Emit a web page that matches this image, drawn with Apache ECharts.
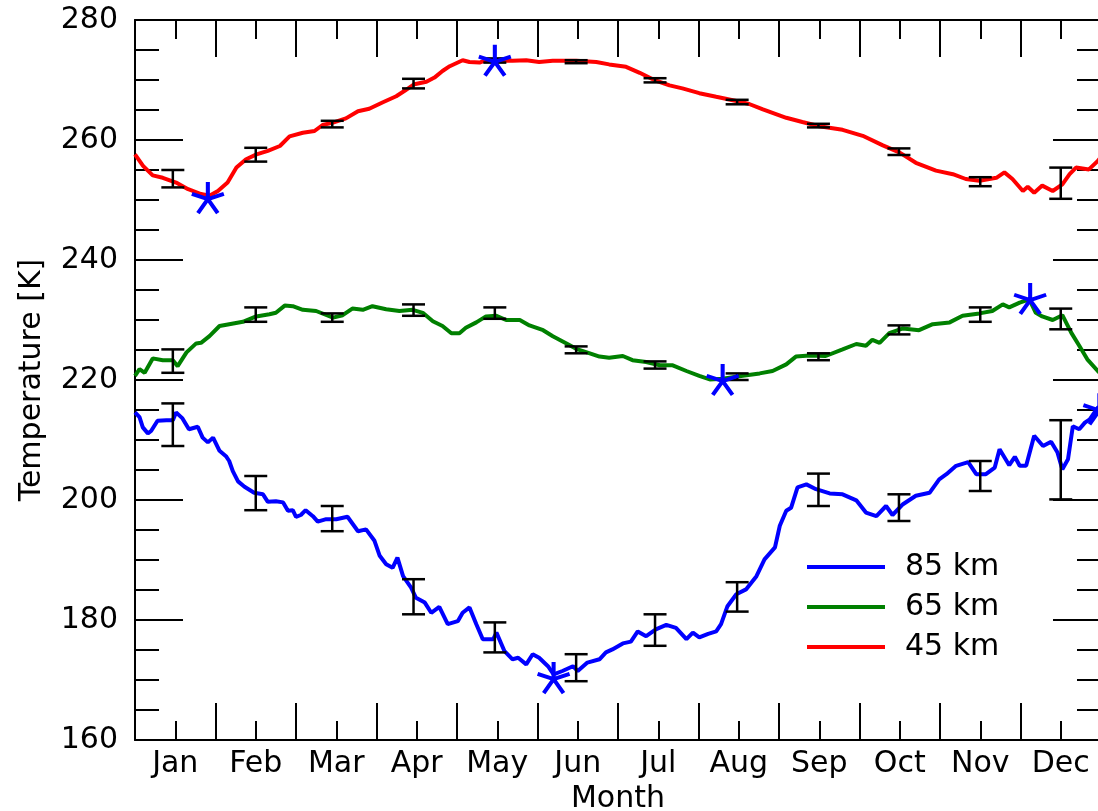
<!DOCTYPE html>
<html>
<head>
<meta charset="utf-8">
<script src="https://cdn.jsdelivr.net/npm/echarts@6/dist/echarts.min.js"></script>
<style>
html,body{margin:0;padding:0;background:#fff;}
#chart{width:1098px;height:811px;}
</style>
</head>
<body>
<div id="chart"></div>
<script>
// ---- Data (x in months since 1 Jan, values in K) ----
const monthLabels = ['Jan','Feb','Mar','Apr','May','Jun','Jul','Aug','Sep','Oct','Nov','Dec'];
const yTicks = [160, 180, 200, 220, 240, 260, 280];

const x45 = [0,0.1,0.22,0.345,0.51,0.66,0.82,0.925,1.03,1.15,1.26,1.38,1.51,1.65,1.80,1.92,2.085,2.23,2.33,2.46,2.62,2.77,2.91,3.08,3.245,3.35,3.47,3.62,3.72,3.82,3.91,3.99,4.07,4.155,4.28,4.36,4.49,4.69,4.86,5.02,5.19,5.48,5.73,5.89,6.10,6.27,6.45,6.64,6.80,7.01,7.22,7.47,7.63,7.80,8.09,8.29,8.50,8.79,9.04,9.29,9.50,9.70,9.95,10.16,10.32,10.49,10.70,10.80,10.90,11.03,11.09,11.17,11.27,11.40,11.52,11.61,11.69,11.85,11.96,12.0];
const v45 = [257.6,255.7,254.1,253.7,252.9,251.8,251.0,250.7,251.5,252.9,255.4,256.8,257.6,258.2,259.0,260.6,261.2,261.5,262.5,262.9,263.6,264.8,265.2,266.3,267.3,268.2,269.3,269.7,270.4,271.5,272.3,272.8,273.3,273.0,272.9,273.3,273.2,273.2,273.3,273.0,273.2,273.2,273.0,272.6,272.2,271.2,270.0,269.1,268.6,267.8,267.2,266.5,266.0,265.1,263.7,263.0,262.3,261.7,260.7,259.1,257.9,256.2,254.9,254.3,253.5,253.2,253.7,254.6,253.5,251.5,252.2,251.2,252.4,251.5,252.6,254.3,255.4,255.1,256.5,257.2];

const x65 = [0,0.056,0.12,0.22,0.345,0.47,0.53,0.64,0.76,0.82,0.925,1.05,1.17,1.34,1.505,1.67,1.75,1.86,1.96,2.085,2.25,2.46,2.58,2.70,2.83,2.95,3.12,3.285,3.45,3.575,3.70,3.82,3.93,4.03,4.11,4.24,4.36,4.49,4.61,4.78,4.90,5.07,5.19,5.36,5.48,5.65,5.77,5.89,6.06,6.18,6.35,6.52,6.68,6.85,7.01,7.14,7.30,7.55,7.76,7.92,8.09,8.21,8.38,8.58,8.79,8.96,9.08,9.16,9.25,9.37,9.54,9.74,9.91,10.12,10.28,10.49,10.65,10.78,10.86,10.99,11.11,11.19,11.27,11.40,11.52,11.63,11.73,11.83,11.96,12.0];
const v65 = [220.7,221.8,221.2,223.6,223.3,223.3,222.3,224.6,226.1,226.2,227.3,229.0,229.3,229.7,230.6,230.95,231.2,232.4,232.3,231.7,231.5,230.4,230.8,231.9,231.7,232.3,231.8,231.5,231.7,231.2,229.8,229.0,227.8,227.8,228.7,229.6,230.6,230.7,230.0,230.0,229.1,228.3,227.3,226.1,225.2,224.45,223.9,223.7,224.0,223.3,223.0,222.45,222.45,221.5,220.7,220.1,220.2,220.7,221.1,221.5,222.6,223.9,224.1,224.0,225.1,226.0,225.7,226.7,226.2,227.8,228.6,228.3,229.3,229.6,230.7,231.1,231.5,232.6,232.1,232.9,233.45,231.2,230.6,230.0,230.8,227.9,225.7,223.45,221.5,221.0];

const x85 = [0,0.056,0.097,0.16,0.20,0.28,0.39,0.47,0.51,0.59,0.67,0.78,0.84,0.905,0.97,1.05,1.13,1.17,1.215,1.28,1.36,1.48,1.59,1.65,1.75,1.84,1.90,1.96,2.00,2.06,2.12,2.21,2.27,2.375,2.50,2.64,2.77,2.87,2.975,3.04,3.12,3.20,3.26,3.33,3.43,3.49,3.60,3.68,3.78,3.885,4.01,4.07,4.155,4.24,4.32,4.45,4.49,4.59,4.69,4.76,4.86,4.94,5.02,5.13,5.20,5.31,5.44,5.50,5.62,5.77,5.85,5.93,6.06,6.16,6.245,6.35,6.47,6.60,6.72,6.85,6.93,7.01,7.12,7.22,7.28,7.36,7.47,7.59,7.72,7.82,7.95,8.01,8.09,8.15,8.23,8.34,8.46,8.63,8.79,8.96,9.08,9.21,9.33,9.41,9.54,9.70,9.87,9.99,10.08,10.20,10.35,10.45,10.57,10.68,10.74,10.86,10.93,10.99,11.07,11.17,11.28,11.38,11.46,11.52,11.59,11.65,11.73,11.80,11.86,11.96,12.0];
const v85 = [214.6,213.8,212.1,211.1,211.5,213.2,213.3,213.3,214.6,213.6,211.8,212.2,210.4,209.6,210.4,208.2,207.3,206.5,204.8,203.1,202.2,201.2,200.95,199.7,199.8,199.6,198.2,198.3,197.2,197.5,198.3,197.3,196.4,196.8,196.8,197.2,194.8,195.1,193.2,190.7,189.3,188.7,190.4,187.3,185.4,183.7,182.9,181.2,182.2,179.3,179.8,181.2,182.1,179.3,176.8,176.8,177.9,174.8,173.45,173.7,172.6,174.3,173.7,172.3,170.95,171.5,172.3,171.5,172.9,173.45,174.6,175.1,176.1,176.4,178.1,177.3,178.45,179.2,178.7,176.8,177.9,177.1,177.7,178.1,179.3,182.3,184.3,185.1,187.3,190.1,192.1,195.7,198.2,198.7,202.1,202.6,201.8,201.1,200.95,199.95,197.9,197.3,199.0,197.5,199.3,200.7,201.2,203.45,204.3,205.7,206.3,204.3,204.3,205.4,208.45,205.8,207.2,205.7,205.7,210.7,209.0,209.7,207.9,205.1,206.8,212.3,211.8,212.9,213.45,215.4,215.6];

// Monthly error bars (position in months, lower and upper bounds)
const errX = [0.47,1.50,2.45,3.46,4.47,5.48,6.46,7.48,8.49,9.49,10.50,11.50];
const err45Lo = [252.1,256.4,262.1,268.6,272.9,272.8,269.6,265.95,262.1,257.5,252.3,250.2];
const err45Hi = [255.0,258.7,263.2,270.2,273.6,273.3,270.3,266.7,262.7,258.6,253.8,255.4];
const err65Lo = [221.2,229.7,229.7,230.7,230.2,224.45,221.9,220.0,223.3,227.6,229.7,228.45];
const err65Hi = [225.1,232.1,231.1,232.6,232.1,225.6,223.1,221.1,224.45,229.1,232.1,231.9];
const err85Lo = [209.0,198.3,194.8,180.95,174.6,169.8,175.7,181.4,199.0,196.5,201.5,200.1];
const err85Hi = [216.1,204.0,199.0,186.8,179.6,174.3,180.95,186.3,204.4,200.95,206.5,213.3];

// Extremum markers
const starX = [0.905, 4.47, 7.30, 11.12, 5.20, 11.98];
const starY = [250.4, 273.3, 220.1, 233.6, 170.4, 215.2];

// ---- Build ----
const zip = (a, b) => a.map((v, i) => [v, b[i]]);
const FONT = 'DejaVu Sans';
const BLACK = '#000';

const errData = [];
errX.forEach((x, i) => {
  errData.push([x, err85Lo[i], err85Hi[i]]);
  errData.push([x, err65Lo[i], err65Hi[i]]);
  errData.push([x, err45Lo[i], err45Hi[i]]);
});

const STAR = 'path://M0 0L0 -10M0 0L9.51 -3.09M0 0L5.88 8.09M0 0L-5.88 8.09M0 0L-9.51 -3.09';

const tickAxisX = (pos) => ({
  type: 'value', position: pos, min: 0, max: 12, interval: 1,
  axisLine: { show: true, onZero: false, lineStyle: { color: BLACK, width: 2 } },
  axisTick: { show: true, inside: true, length: 37, lineStyle: { color: BLACK, width: 2 } },
  minorTick: { show: true, splitNumber: 2, length: 19, lineStyle: { color: BLACK, width: 2 } },
  axisLabel: { show: false },
  splitLine: { show: false }, minorSplitLine: { show: false }
});

const yAxisBase = (pos, labels) => ({
  type: 'value', position: pos, min: 160, max: 280, interval: 20,
  axisLine: { show: true, onZero: false, lineStyle: { color: BLACK, width: 2 } },
  axisTick: { show: true, inside: true, length: 48, lineStyle: { color: BLACK, width: 2 } },
  minorTick: { show: true, splitNumber: 4, length: 24, lineStyle: { color: BLACK, width: 2 } },
  axisLabel: labels ? {
    show: true, fontSize: 30, color: BLACK, fontFamily: FONT, margin: 17,
    formatter: v => (yTicks.indexOf(v) >= 0 ? String(v) : '')
  } : { show: false },
  splitLine: { show: false }, minorSplitLine: { show: false }
});

const option = {
  animation: false,
  backgroundColor: '#fff',
  grid: { left: 135, top: 20, width: 966, height: 720, outerBoundsMode: 'none', containLabel: false },
  xAxis: [
    tickAxisX('bottom'),
    {
      type: 'value', position: 'bottom', min: 0, max: 12, interval: 0.5,
      axisLine: { show: false }, axisTick: { show: false }, splitLine: { show: false },
      axisLabel: {
        show: true, fontSize: 30, color: BLACK, fontFamily: FONT, margin: 9,
        formatter: v => { const k = Math.round(v * 2); return k % 2 === 1 ? monthLabels[(k - 1) / 2] : ''; }
      },
      name: 'Month', nameLocation: 'middle', nameGap: 38,
      nameTextStyle: { fontSize: 30, color: BLACK, fontFamily: FONT }
    },
    tickAxisX('top')
  ],
  yAxis: [
    Object.assign(yAxisBase('left', true), {
      name: 'Temperature [K]', nameLocation: 'middle', nameGap: 88, nameRotate: 90,
      nameTextStyle: { fontSize: 30, color: BLACK, fontFamily: FONT }
    }),
    yAxisBase('right', false)
  ],
  legend: {
    orient: 'vertical', left: 802, top: 547,
    itemWidth: 78, itemHeight: 4, itemGap: 10, icon: 'rect',
    data: ['85 km', '65 km', '45 km'],
    textStyle: { fontSize: 30, color: BLACK, fontFamily: FONT, lineHeight: 30, padding: [0, 0, 0, 15] }
  },
  series: [
    { name: '85 km', type: 'line', xAxisIndex: 0, yAxisIndex: 0, data: zip(x85, v85),
      showSymbol: false, symbol: 'none', color: '#0000ff', lineStyle: { color: '#0000ff', width: 4 }, z: 2 },
    { name: '65 km', type: 'line', xAxisIndex: 0, yAxisIndex: 0, data: zip(x65, v65),
      showSymbol: false, symbol: 'none', color: '#008000', lineStyle: { color: '#008000', width: 4 }, z: 2 },
    { name: '45 km', type: 'line', xAxisIndex: 0, yAxisIndex: 0, data: zip(x45, v45),
      showSymbol: false, symbol: 'none', color: '#ff0000', lineStyle: { color: '#ff0000', width: 4 }, z: 2 },
    {
      type: 'custom', xAxisIndex: 0, yAxisIndex: 0, z: 3,
      data: errData, encode: { x: 0, y: [1, 2] },
      renderItem: (params, api) => {
        const x = api.value(0);
        const top = api.coord([x, api.value(2)]);
        const bot = api.coord([x, api.value(1)]);
        const hw = 11.5;
        const st = { stroke: BLACK, lineWidth: 2.5 };
        return {
          type: 'group',
          children: [
            { type: 'line', shape: { x1: top[0], y1: top[1], x2: bot[0], y2: bot[1] }, style: st },
            { type: 'line', shape: { x1: top[0] - hw, y1: top[1], x2: top[0] + hw, y2: top[1] }, style: st },
            { type: 'line', shape: { x1: bot[0] - hw, y1: bot[1], x2: bot[0] + hw, y2: bot[1] }, style: st }
          ]
        };
      }
    },
    {
      type: 'scatter', xAxisIndex: 0, yAxisIndex: 0, z: 4,
      data: zip(starX, starY), symbol: STAR, symbolSize: [32, 31], symbolKeepAspect: false,
      itemStyle: { color: 'rgba(0,0,0,0)', borderColor: '#0000ff', borderWidth: 4, opacity: 1 },
      clip: false
    }
  ]
};

const chart = echarts.init(document.getElementById('chart'), null, { renderer: 'canvas' });
chart.setOption(option);
</script>
</body>
</html>
